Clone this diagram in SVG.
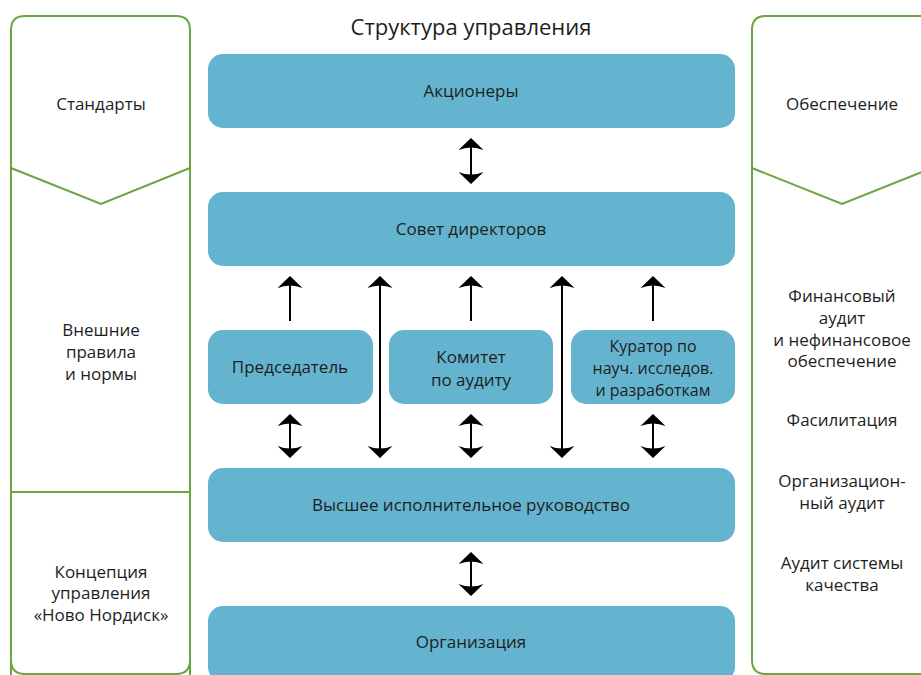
<svg xmlns="http://www.w3.org/2000/svg" width="921" height="675" viewBox="0 0 921 675">
<style>
.panel{fill:none;stroke:#6aa541;stroke-width:2}
.box{fill:#64b4cf}
.t{font-family:"Open Sans","Noto Sans","Liberation Sans",sans-serif;font-size:17px;fill:#1e1e1e;text-anchor:middle}
.tc{font-size:16px}
.title{font-family:"Open Sans","Noto Sans","Liberation Sans",sans-serif;font-size:22px;fill:#1e1e1e;text-anchor:middle}
.c{stroke:#000;stroke-width:2;fill:none}
</style>
<defs>
<marker id="ah" markerUnits="userSpaceOnUse" markerWidth="16" markerHeight="28" viewBox="-14 -14 16 28" refX="-3" refY="0" orient="auto-start-reverse">
<path d="M0,0 L-12,-12.5 Q-7,0 -12,12.5 Z" fill="#000"/>
</marker>
</defs>
<text class="title" x="471" y="35">Структура управления</text>
<g id="left-panel">
<path class="panel" d="M11,675 V30 Q11,16 25,16 H176 Q190,16 190,30 V675"/>
<path class="panel" d="M11,660 Q11,674 25,674 H176 Q190,674 190,660"/>
<polyline class="panel" points="11,168 101,204 190,168"/>
<line class="panel" x1="11" y1="492" x2="190" y2="492"/>
<text class="t" x="101" y="110">Стандарты</text>
<text class="t" x="101" y="336">Внешние</text>
<text class="t" x="101" y="358">правила</text>
<text class="t" x="101" y="380">и нормы</text>
<text class="t" x="101" y="578">Концепция</text>
<text class="t" x="101" y="599">управления</text>
<text class="t" x="101" y="621">«Ново Нордиск»</text>
</g>
<g id="right-panel">
<path class="panel" d="M752,660 V30 Q752,16 766,16 H930"/>
<path class="panel" d="M752,660 Q752,674 766,674 H930"/>
<polyline class="panel" points="752,168 842,204 932,168"/>
<text class="t" x="842" y="110">Обеспечение</text>
<text class="t" x="842" y="302">Финансовый</text>
<text class="t" x="842" y="324">аудит</text>
<text class="t" x="842" y="346">и нефинансовое</text>
<text class="t" x="842" y="367">обеспечение</text>
<text class="t" x="842" y="426">Фасилитация</text>
<text class="t" x="842" y="487">Организацион-</text>
<text class="t" x="842" y="509">ный аудит</text>
<text class="t" x="842" y="569">Аудит системы</text>
<text class="t" x="842" y="591">качества</text>
</g>
<g id="n-shareholders"><rect class="box" x="208" y="54" width="527" height="74" rx="15"/><text class="t" x="471" y="97">Акционеры</text></g>
<g id="n-board"><rect class="box" x="208" y="192" width="527" height="74" rx="15"/><text class="t" x="471" y="235">Совет директоров</text></g>
<g id="n-chair"><rect class="box" x="208" y="330" width="165" height="74" rx="15"/><text class="t" x="290" y="373">Председатель</text></g>
<g id="n-audit"><rect class="box" x="389" y="330" width="164" height="74" rx="15"/><text class="t" x="471" y="363">Комитет</text><text class="t" x="471" y="386">по аудиту</text></g>
<g id="n-curator"><rect class="box" x="571" y="330" width="164" height="74" rx="15"/><text class="t tc" x="653" y="352">Куратор по</text><text class="t tc" x="653" y="374">науч. исследов.</text><text class="t tc" x="653" y="396">и разработкам</text></g>
<g id="n-exec"><rect class="box" x="208" y="468" width="527" height="74" rx="15"/><text class="t" x="471" y="511">Высшее исполнительное руководство</text></g>
<g id="n-org"><rect class="box" x="208" y="606" width="527" height="76" rx="15"/><text class="t" x="471" y="648">Организация</text></g>
<g id="connectors">
<line class="c" x1="471" y1="141" x2="471" y2="181" marker-start="url(#ah)" marker-end="url(#ah)"/>
<line class="c" x1="290" y1="321" x2="290" y2="279" marker-end="url(#ah)"/>
<line class="c" x1="471" y1="321" x2="471" y2="279" marker-end="url(#ah)"/>
<line class="c" x1="653" y1="321" x2="653" y2="279" marker-end="url(#ah)"/>
<line class="c" x1="380" y1="279" x2="380" y2="455" marker-start="url(#ah)" marker-end="url(#ah)"/>
<line class="c" x1="562" y1="279" x2="562" y2="455" marker-start="url(#ah)" marker-end="url(#ah)"/>
<line class="c" x1="290" y1="417" x2="290" y2="455" marker-start="url(#ah)" marker-end="url(#ah)"/>
<line class="c" x1="471" y1="417" x2="471" y2="455" marker-start="url(#ah)" marker-end="url(#ah)"/>
<line class="c" x1="653" y1="417" x2="653" y2="455" marker-start="url(#ah)" marker-end="url(#ah)"/>
<line class="c" x1="471" y1="555" x2="471" y2="593" marker-start="url(#ah)" marker-end="url(#ah)"/>
</g>
</svg>
